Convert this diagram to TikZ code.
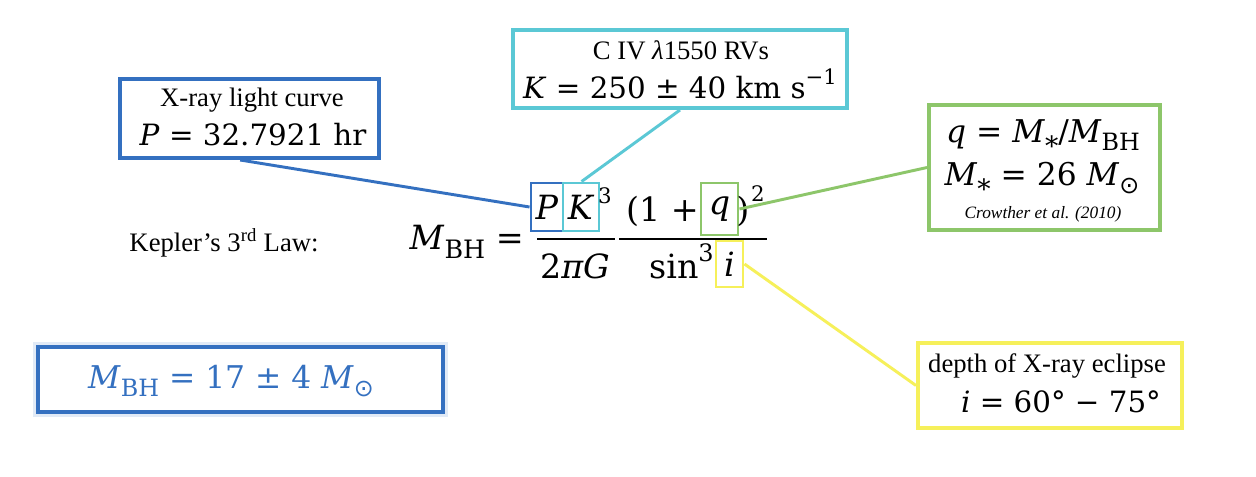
\RequirePackage{fix-cm}
\documentclass[tikz,border=0pt]{standalone}
\usepackage{fontspec}
\usepackage{graphicx}
\setmainfont{Liberation Serif}
\newfontfamily\mf{DejaVu Serif}
\newfontfamily\symf{DejaVu Sans}
\definecolor{cblue}{RGB}{52,112,192}
\definecolor{ccyan}{RGB}{91,200,213}
\definecolor{cgreen}{RGB}{141,198,106}
\definecolor{cyellow}{RGB}{246,240,90}
\newcommand{\fsz}[1]{\fontsize{#1}{1.2\dimexpr#1pt\relax}\selectfont}
\newcommand{\vi}[1]{\textit{#1}}
\newcommand{\sbs}[1]{\raisebox{-0.28em}{\scalebox{0.76}{#1}}}
\newcommand{\sps}[1]{\raisebox{0.5em}{\scalebox{0.72}{#1}}}
\newcommand{\sun}{{\symf ⊙}}
\newcommand{\mystar}{\raisebox{-0.42em}{\scalebox{0.85}{*}}}
\tikzset{
  bigbox/.style={draw, line width=3pt, fill=white, inner sep=0pt},
  termbox/.style={draw, line width=2.2pt, inner sep=0pt},
  link/.style={line width=2.2pt},
  small/.style={font=\fsz{20}, inner sep=0pt},
  big/.style={font=\fsz{22}\mf, inner sep=0pt},
  eq/.style={font=\fsz{25}\mf, inner sep=0pt},
}
\begin{document}
\begin{tikzpicture}[x=0.75pt,y=-0.75pt]
\useasboundingbox[fill=white] (0,0) rectangle (1256,476);

% big boxes
\node[bigbox, draw=cblue, minimum width=194.25pt, minimum height=59.25pt] (xray) at (249.5,118.5) {};
\node[bigbox, draw=ccyan, minimum width=250.5pt, minimum height=58.5pt] (civ) at (680,69) {};
\node[bigbox, draw=cgreen, minimum width=173.25pt, minimum height=93.75pt] (qbox) at (1044.5,167.5) {};
\node[bigbox, draw=cyellow, minimum width=198pt, minimum height=63.75pt] (ibox) at (1050,385.5) {};

% result box with glow
\draw[cblue!15, line width=7pt] (38,347) rectangle (443,412);
\node[bigbox, draw=cblue, minimum width=303.75pt, minimum height=48.75pt] (res) at (240.5,379.5) {};

% texts in boxes
\node[small] (xrayA) at (252,100) {X-ray light curve};
\node[big] (xrayB) at (253,135) {\vi{P} = 32.7921 hr};
\node[small] (civA) at (681,50) {C IV \textit{λ}1550 RVs};
\node[big] (civB) at (680,84) {\vi{K} = 250 ± 40 km s\sps{−1}};
\node[big, font=\fsz{23.5}\mf, anchor=base, text depth=2pt] (qA) at (1043,142) {\vi{q} = \vi{M}\mystar/\vi{M}\sbs{BH}};
\node[big, font=\fsz{23.5}\mf, anchor=base, text depth=2pt] (qB) at (1042,185) {\vi{M}\mystar\ = 26 \vi{M}\sbs{\sun}};
\node[font=\fsz{13}\itshape, inner sep=0pt, anchor=base] (qC) at (1043,218) {Crowther et al. (2010)};
\node[small] (iA) at (1047,366) {depth of X-ray eclipse};
\node[big] (iB) at (1061,402) {\vi{i} = 60° − 75°};
\node[big, text=cblue, font=\fsz{23.5}\mf] (resT) at (231,381) {\vi{M}\sbs{BH} = 17 ± 4 \vi{M}\sbs{\sun}};

\node[small] (kep) at (224,243) {Kepler's 3\textsuperscript{rd} Law:};

% equation
\node[eq, anchor=base east] (lhs) at (524,249) {\vi{M}\sbs{BH} =};
\node[termbox, draw=cblue, minimum width=24pt, minimum height=36pt, font=\fsz{25}\mf] (P) at (547,207) {\vi{P}};
\node[termbox, draw=ccyan, minimum width=27pt, minimum height=36pt, font=\fsz{25}\mf] (K) at (581,207) {\vi{K}};
\node[font=\fsz{16}\mf, inner sep=0pt] (k3) at (605,196) {3};
\node[eq, anchor=base east] (onep) at (699,221) {(1 + };
\node[termbox, draw=cgreen, minimum width=27.75pt, minimum height=39pt, font=\fsz{25}\mf] (q) at (719.5,209) {\vi{q}};
\node[eq, anchor=base west] (cp) at (736,221) {)};
\node[font=\fsz{16}\mf, inner sep=0pt] (sq) at (758,194) {2};
\node[eq, anchor=base] (den1) at (575,278) {2\vi{πG}};
\node[eq, anchor=base east] (den2) at (714,278) {sin\sps{3}};
\node[termbox, draw=cyellow, minimum width=20.25pt, minimum height=34.5pt, font=\fsz{25}\mf] (i) at (729.5,264) {\vi{i}};
\coordinate (b1a) at (537,239);
\coordinate (b1b) at (615,239);
\coordinate (b2a) at (619,239);
\coordinate (b2b) at (767,239);
\draw[line width=2pt] (b1a) -- (b1b);
\draw[line width=2pt] (b2a) -- (b2b);

% connectors
\draw[link, cblue] ([xshift=-7pt]xray.south) -- (P.west);
\draw[link, ccyan] (civ.south) -- ([xshift=15pt]K.north west);
\draw[link, cgreen] (q.east) -- (qbox.west);
\draw[link, cyellow] (i.east) -- (ibox.west);
\end{tikzpicture}
\end{document}
